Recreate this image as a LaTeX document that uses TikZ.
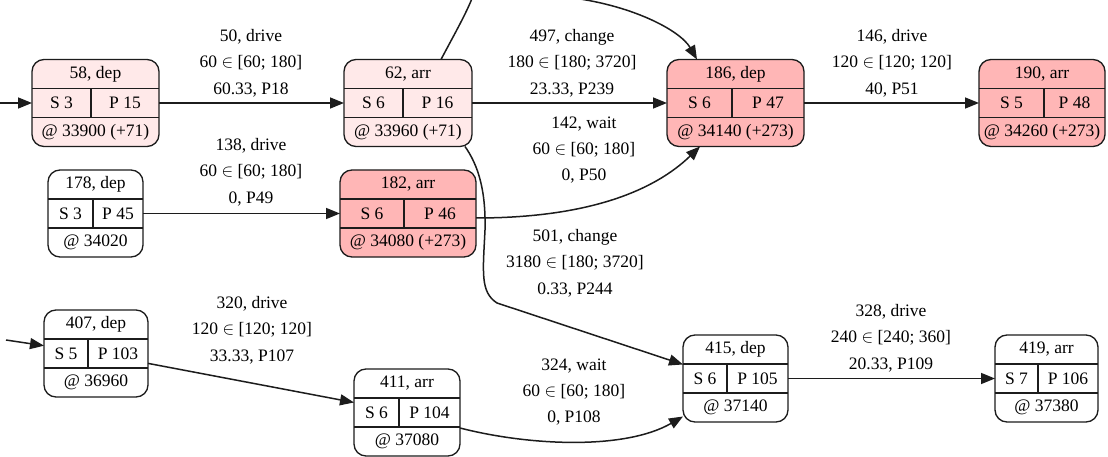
\RequirePackage{fix-cm}
\documentclass[tikz,border=0pt]{standalone}
\usepackage{fontspec}
\setmainfont{Liberation Serif}
\usetikzlibrary{arrows.meta,calc}

\definecolor{lineclr}{HTML}{1C1C1C}
\definecolor{palepink}{HTML}{FFE9E9}
\definecolor{hotpink}{HTML}{FFB6B6}

\tikzset{
  rec/.style={draw=lineclr, line width=1.35pt, rounded corners=12pt,
    minimum height=87pt, inner sep=0pt, outer sep=0pt},
  recline/.style={draw=lineclr, line width=1.2pt},
  txt/.style={font=\fontsize{17.5}{21}\selectfont, inner sep=0pt, text=black},
  elabel/.style={font=\fontsize{17.5}{26.3}\selectfont, align=center, inner sep=0pt, text=black},
  edge/.style={draw=lineclr, line width=1.5pt, -{Triangle[length=14pt,width=11pt]}},
  plainedge/.style={draw=lineclr, line width=1.5pt},
}

% record node: name, centre, width, divider offset, fill, title, left cell, right cell, time
\newcommand\recnode[9]{%
  \node[rec, fill=#5, minimum width=#3] (#1) at #2 {};
  \draw[recline] ([yshift=14.5pt]#1.west) -- ([yshift=14.5pt]#1.east);
  \draw[recline] ([yshift=-14.5pt]#1.west) -- ([yshift=-14.5pt]#1.east);
  \draw[recline] ([shift={(#4,14.5pt)}]#1.center) -- ([shift={(#4,-14.5pt)}]#1.center);
  \node[txt] at ([yshift=29pt]#1.center) {#6};
  \node[txt] at ($(#1.west)!.5!([xshift=#4]#1.center)$) {#7};
  \node[txt] at ($(#1.east)!.5!([xshift=#4]#1.center)$) {#8};
  \node[txt] at ([yshift=-29pt]#1.center) {#9};
}

\begin{document}
\begin{tikzpicture}[x=1pt, y=-1pt]
\useasboundingbox (0,0) rectangle (1108,457);
\clip (0,0) rectangle (1108,457);
\fill[white] (0,0) rectangle (1108,457);

% events
\recnode{n58}{(95.5,103)}{127pt}{-4.5pt}{palepink}{58, dep}{S 3}{P 15}{@ 33900 (+71)}
\recnode{n62}{(408,103)}{128pt}{-5pt}{palepink}{62, arr}{S 6}{P 16}{@ 33960 (+71)}
\recnode{n186}{(735.5,103)}{137pt}{-3.5pt}{hotpink}{186, dep}{S 6}{P 47}{@ 34140 (+273)}
\recnode{n190}{(1042,103)}{126pt}{2pt}{hotpink}{190, arr}{S 5}{P 48}{@ 34260 (+273)}
\recnode{n178}{(95.5,213.5)}{95pt}{-2.5pt}{white}{178, dep}{S 3}{P 45}{@ 34020}
\recnode{n182}{(408,213.5)}{136pt}{-4pt}{hotpink}{182, arr}{S 6}{P 46}{@ 34080 (+273)}
\recnode{n407}{(96,353.5)}{104pt}{-8pt}{white}{407, dep}{S 5}{P 103}{@ 36960}
\recnode{n411}{(407,412.5)}{106pt}{-8pt}{white}{411, arr}{S 6}{P 104}{@ 37080}
\recnode{n415}{(735.5,378.5)}{105pt}{-8.5pt}{white}{415, dep}{S 6}{P 105}{@ 37140}
\recnode{n419}{(1046.5,378.5)}{103pt}{-8.5pt}{white}{419, arr}{S 7}{P 106}{@ 37380}

% loose ends of edges leaving the frame
\coordinate (in58) at (-2,103);
\coordinate (in407) at (6,340);
\coordinate (up62) at (473,-4);
\coordinate (top186) at (565,-3);

% connectors
\draw[edge] (in58) -- (n58);
\draw[edge] (n58) -- (n62);
\draw[edge] (n62) -- (n186);
\draw[edge] (n186) -- (n190);
\draw[edge] (n178) -- (n182);
\draw[edge] (in407) -- (n407);
\draw[edge] (n407) -- (n411);
\draw[edge] (n415) -- (n419);
\draw[plainedge] ([xshift=33pt]n62.north) .. controls (455,33) and (466,14) .. (up62);
\draw[edge] (top186) .. controls (630,4) and (680,30) .. ([xshift=-38.5pt]n186.north);
\draw[edge] ([yshift=-4.5pt]n182.east) .. controls (590,218) and (655,190) .. ([xshift=-35.5pt]n186.south);
\draw[edge] ([xshift=57pt]n62.south) .. controls (478,165) and (486,190) .. (485,230)
  .. controls (483,272) and (480,292) .. (497,303) -- ([yshift=14pt]n415.west);
\draw[edge] ([yshift=-15.5pt]n411.east) .. controls (530,446) and (625,450) .. ([yshift=-38pt]n415.west);

% edge labels
\node[elabel] (l50)  at (251,63)  {50, drive\\60 $\in$ [60; 180]\\60.33, P18};
\node[elabel] (l497) at (572,63)  {497, change\\180 $\in$ [180; 3720]\\23.33, P239};
\node[elabel] (l146) at (892,63)  {146, drive\\120 $\in$ [120; 120]\\40, P51};
\node[elabel] (l142) at (584,150) {142, wait\\60 $\in$ [60; 180]\\0, P50};
\node[elabel] (l138) at (251,172) {138, drive\\60 $\in$ [60; 180]\\0, P49};
\node[elabel] (l501) at (575,263) {501, change\\3180 $\in$ [180; 3720]\\0.33, P244};
\node[elabel] (l320) at (252,330) {320, drive\\120 $\in$ [120; 120]\\33.33, P107};
\node[elabel] (l328) at (891,338) {328, drive\\240 $\in$ [240; 360]\\20.33, P109};
\node[elabel] (l324) at (574,392) {324, wait\\60 $\in$ [60; 180]\\0, P108};
\end{tikzpicture}
\end{document}
